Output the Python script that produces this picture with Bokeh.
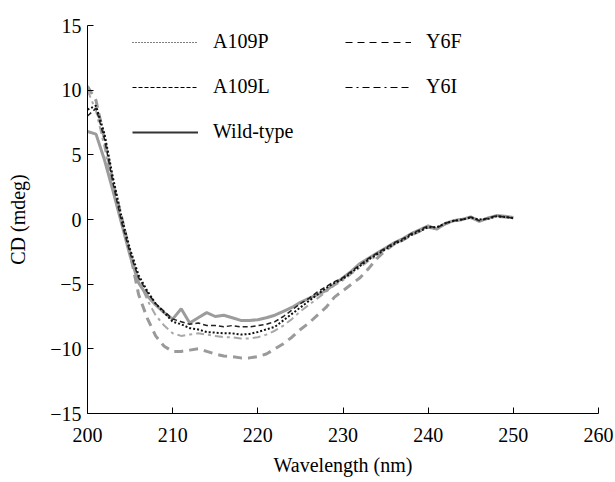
from bokeh.plotting import figure
from bokeh.models import Range1d, FixedTicker, Legend, LegendItem, CustomJSTickFormatter, ColumnDataSource
from bokeh.embed import file_html
from bokeh.resources import INLINE

wavelength = list(range(200, 251))

wild_type = [6.8, 6.6, 4.6, 2.2, -0.3, -2.8, -4.9, -5.9, -6.6, -7.2,
             -7.7, -6.9, -8.0, -7.6, -7.2, -7.5, -7.4, -7.6, -7.8, -7.8,
             -7.75, -7.6, -7.4, -7.1, -6.8, -6.4, -6.1, -5.8, -5.5, -5.0,
             -4.5, -4.0, -3.4, -3.0, -2.6, -2.2, -1.8, -1.5, -1.1, -0.8,
             -0.5, -0.75, -0.3, -0.1, 0.0, 0.2, -0.15, 0.1, 0.3, 0.25, 0.15]

y6f = [10.3, 9.2, 6.2, 2.8, 0.2, -2.6, -5.8, -7.6, -9.0, -9.8,
       -10.2, -10.2, -10.1, -10.0, -10.2, -10.4, -10.55, -10.6, -10.7, -10.7,
       -10.6, -10.4, -10.0, -9.6, -9.1, -8.5, -8.0, -7.4, -6.8, -6.0,
       -5.5, -5.0, -4.5, -3.8, -3.0, -2.4, -1.9, -1.6, -1.2, -0.9,
       -0.6, -0.7, -0.35, -0.1, 0.0, 0.15, -0.1, 0.1, 0.25, 0.2, 0.1]

y6i = [10.0, 8.4, 5.6, 2.2, -0.3, -2.5, -4.6, -6.2, -7.4, -8.2,
       -8.8, -9.0, -8.9, -8.8, -8.9, -9.0, -9.1, -9.1, -9.2, -9.2,
       -9.1, -8.9, -8.6, -8.2, -7.7, -7.1, -6.6, -6.1, -5.6, -5.1,
       -4.7, -4.2, -3.7, -3.2, -2.8, -2.3, -1.9, -1.6, -1.2, -0.9,
       -0.6, -0.7, -0.3, -0.1, 0.0, 0.15, -0.1, 0.05, 0.25, 0.2, 0.1]

a109p = [8.5, 8.8, 6.6, 3.2, 0.2, -2.3, -4.3, -5.5, -6.5, -7.2,
         -7.9, -8.1, -8.4, -8.5, -8.7, -8.75, -8.8, -8.8, -8.9, -8.85,
         -8.7, -8.5, -8.3, -7.8, -7.3, -6.8, -6.3, -5.8, -5.3, -4.9,
         -4.6, -4.1, -3.6, -3.1, -2.7, -2.3, -1.9, -1.6, -1.2, -0.9,
         -0.6, -0.6, -0.3, -0.1, 0.0, 0.15, 0.0, 0.05, 0.25, 0.2, 0.1]

a109l = [8.0, 8.6, 6.2, 2.8, -0.2, -2.6, -4.5, -5.6, -6.5, -7.1,
         -7.7, -7.9, -8.1, -8.0, -8.2, -8.2, -8.3, -8.2, -8.3, -8.3,
         -8.2, -8.1, -7.9, -7.5, -7.0, -6.5, -6.1, -5.6, -5.2, -4.8,
         -4.5, -4.0, -3.5, -3.0, -2.6, -2.2, -1.8, -1.5, -1.1, -0.8,
         -0.5, -0.65, -0.3, -0.1, 0.0, 0.2, -0.1, 0.1, 0.3, 0.2, 0.1]

x_ticks = [200, 210, 220, 230, 240, 250, 260]
y_ticks = [-15, -10, -5, 0, 5, 10, 15]

FONT = "Liberation Serif"

p = figure(width=615, height=482, output_backend="svg", toolbar_location=None,
           x_range=Range1d(200, 260), y_range=Range1d(-15, 15),
           min_border_left=87, min_border_right=17, min_border_top=25, min_border_bottom=69)
p.outline_line_color = None
p.grid.visible = False
p.background_fill_color = "white"
p.border_fill_color = "white"

src = ColumnDataSource(dict(x=wavelength, wt=wild_type, y6f=y6f, y6i=y6i, a109p=a109p, a109l=a109l))

p.line("x", "y6i", source=src, line_color="#a8a8a8", line_width=2, line_dash="8 4 3 4")
p.line("x", "y6f", source=src, line_color="#9a9a9a", line_width=3, line_dash="9 6")
p.line("x", "wt", source=src, line_color="#9c9c9c", line_width=3)
p.line("x", "a109l", source=src, line_color="#222222", line_width=1.5, line_dash="5 3")
p.line("x", "a109p", source=src, line_color="#111111", line_width=2, line_dash="2 2")

# hidden renderers that only supply the legend's thin black key lines
r_p = p.line("x", "a109p", source=src, line_color="black", line_width=1.2, line_dash="1 2", visible=False)
r_l = p.line("x", "a109l", source=src, line_color="black", line_width=1.2, line_dash="4 2", visible=False)
r_w = p.line("x", "wt", source=src, line_color="#333333", line_width=1.8, visible=False)
r_f = p.line("x", "y6f", source=src, line_color="black", line_width=1.2, line_dash="7 5", visible=False)
r_i = p.line("x", "y6i", source=src, line_color="black", line_width=1.2, line_dash="7 4 2 4 7 4", visible=False)

legend = Legend(items=[
    LegendItem(label="A109P", renderers=[r_p]),
    LegendItem(label="A109L", renderers=[r_l]),
    LegendItem(label="Wild-type", renderers=[r_w]),
    LegendItem(label="Y6F", renderers=[r_f]),
    LegendItem(label="Y6I", renderers=[r_i]),
], location=(45, 270), nrows=3, orientation="vertical")
legend.border_line_alpha = 0
legend.background_fill_alpha = 0
legend.inactive_fill_alpha = 0
legend.padding = 0
legend.margin = 0
legend.spacing = 22
legend.glyph_width = 66
legend.glyph_height = 20
legend.label_height = 20
legend.label_width = 110
legend.label_standoff = 15
legend.label_text_font = FONT
legend.label_text_font_size = "20px"
legend.label_text_color = "black"
p.add_layout(legend, "center")

fmt = CustomJSTickFormatter(code="return tick < 0 ? '\u2212' + Math.abs(tick) : String(tick);")

for ax in (p.xaxis[0], p.yaxis[0]):
    ax.major_tick_in = 6
    ax.major_tick_out = 0
    ax.minor_tick_line_color = None
    ax.axis_line_color = "black"
    ax.major_tick_line_color = "black"
    ax.major_label_text_font = FONT
    ax.major_label_text_font_size = "20px"
    ax.major_label_text_color = "black"
    ax.axis_label_text_font = FONT
    ax.axis_label_text_font_size = "20px"
    ax.axis_label_text_font_style = "normal"
    ax.axis_label_text_color = "black"
    ax.formatter = fmt

p.xaxis.ticker = FixedTicker(ticks=x_ticks)
p.yaxis.ticker = FixedTicker(ticks=y_ticks)
p.xaxis.axis_label = "Wavelength (nm)"
p.yaxis.axis_label = "CD (mdeg)"
p.xaxis.major_label_standoff = 14
p.yaxis.major_label_standoff = 6
p.xaxis.axis_label_standoff = 9
p.yaxis.axis_label_standoff = 18

open("out.html", "w").write(file_html(p, INLINE))
